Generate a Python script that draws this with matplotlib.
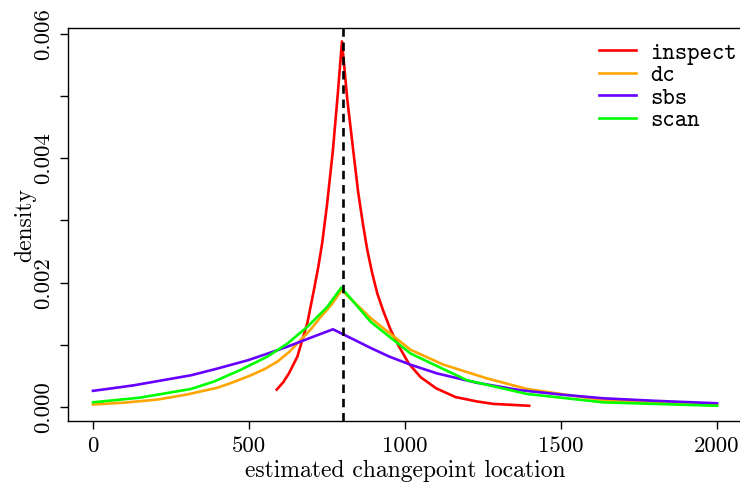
#!/usr/bin/env python3
# -*- coding: utf-8 -*-

"""
Density of estimated changepoint locations for four methods.
"""

import numpy as np
from matplotlib import pyplot as plt

# DATA ########################################################################

inspect_x = [589, 610, 628, 655, 671, 687, 708, 722, 735, 750, 769, 784, 798,
             815, 834, 850, 865, 879, 895, 911, 930, 954, 980, 1012, 1050,
             1100, 1162, 1230, 1283, 1398]
inspect_y = [0.00028, 0.00040, 0.00054, 0.00081, 0.00108, 0.00135, 0.00188,
             0.00225, 0.00265, 0.00325, 0.00413, 0.00500, 0.00588,
             0.00495, 0.00413, 0.00345, 0.00295, 0.00253, 0.00215, 0.00183,
             0.00155, 0.00124, 0.00098, 0.00070, 0.00048,
             0.00030, 0.00016, 0.00009, 0.00005, 0.00002]

dc_x = [0, 100, 207, 300, 399, 450, 506, 550, 591, 630, 666, 700, 730, 765,
        797, 890, 1018, 1124, 1263, 1391, 1636, 2000]
dc_y = [0.00004, 0.00007, 0.00012, 0.00020, 0.00031, 0.00040, 0.00051,
        0.00061, 0.00073, 0.00089, 0.00108, 0.00126, 0.00145, 0.00165,
        0.00188, 0.00143, 0.00092, 0.00068, 0.00046, 0.00029, 0.00011,
        0.00003]

sbs_x = [0, 60, 132, 200, 314, 400, 495, 560, 623, 690, 769, 830, 890, 950,
         1018, 1103, 1230, 1370, 1500, 1636, 1800, 2000]
sbs_y = [0.00026, 0.00030, 0.00035, 0.00041, 0.00051, 0.00062, 0.00075,
         0.00086, 0.00097, 0.00110, 0.00125, 0.00110, 0.00095, 0.00081,
         0.00068, 0.00054, 0.00039, 0.00027, 0.00020, 0.00014, 0.00010,
         0.00006]

scan_x = [0, 150, 314, 388, 474, 559, 623, 687, 751, 796, 890, 1018, 1199,
          1391, 1636, 2000]
scan_y = [0.000075, 0.00015, 0.00029, 0.00041, 0.00060, 0.00081, 0.00102,
          0.00129, 0.00161, 0.00192, 0.00137, 0.00086, 0.00043, 0.00021,
          0.000075, 0.00002]

true_cp = 800

x_ticks = [0, 500, 1000, 1500, 2000]
y_ticks = [0.000, 0.001, 0.002, 0.003, 0.004, 0.005, 0.006]
y_tick_labels = ["0.000", "", "0.002", "", "0.004", "", "0.006"]

# PLOT ########################################################################

plt.rcParams["font.family"] = "cmr10"
plt.rcParams["axes.formatter.use_mathtext"] = True

fig = plt.figure(figsize=(7.4, 4.86), dpi=100)
ax = fig.add_axes([68 / 740, 1 - 421 / 486, (742 - 68) / 740, (421 - 28) / 486])

lw = 1.9
ax.plot(inspect_x, inspect_y, color="#FF0000", lw=lw, label="inspect")
ax.plot(dc_x, dc_y, color="#FFA500", lw=lw, label="dc")
ax.plot(sbs_x, sbs_y, color="#6600FF", lw=lw, label="sbs")
ax.plot(scan_x, scan_y, color="#00FF00", lw=lw, label="scan")

ax.axvline(true_cp, color="black", lw=1.9, dashes=(3.2, 2.2))

ax.set_xlim(-80, 2080)
ax.set_ylim(-0.000225, 0.006096)

ax.set_xticks(x_ticks)
ax.set_xticklabels([str(v) for v in x_ticks], fontsize=16.5)
ax.set_yticks(y_ticks)
ax.set_yticklabels(y_tick_labels, fontsize=16.5, rotation=90, va="center")
ax.tick_params(direction="out", length=6, width=1, pad=5)

for side in ["left", "bottom", "top", "right"]:
    ax.spines[side].set_linewidth(1)

ax.set_xlabel("estimated changepoint location", fontsize=17, labelpad=3)
ax.set_ylabel("density", fontsize=17, labelpad=-2)

leg = ax.legend(loc="upper right", bbox_to_anchor=(1.006, 0.988), frameon=False,
                prop={"family": "cmtt10", "size": 17}, handlelength=1.55,
                handletextpad=0.6, labelspacing=0.0, borderaxespad=0)

plt.savefig("out.png", dpi=100)
